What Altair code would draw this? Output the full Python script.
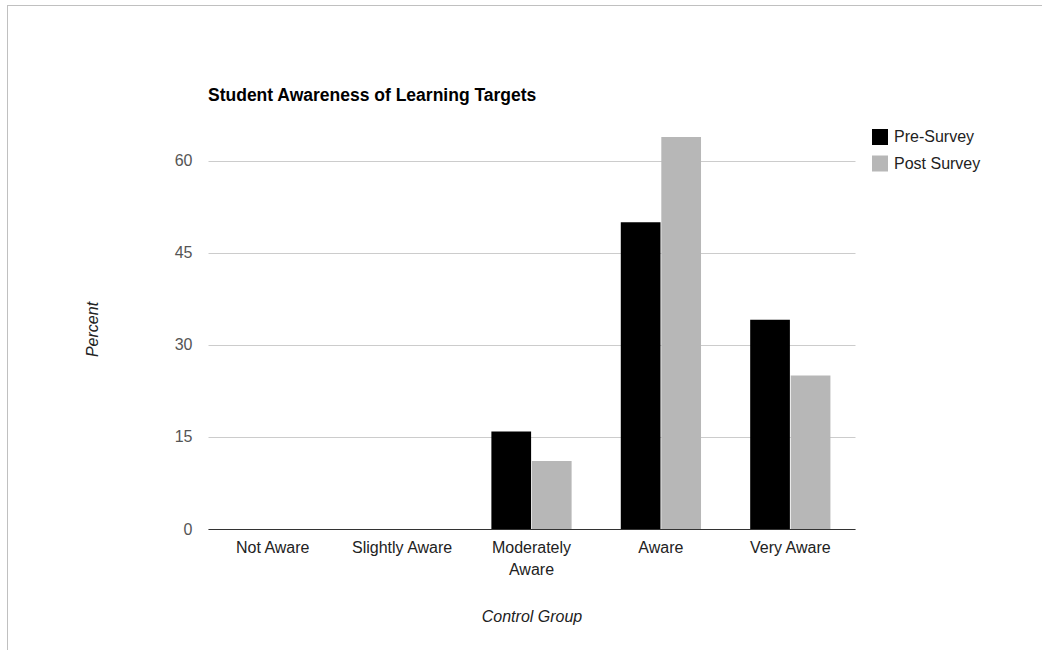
import altair as alt
import pandas as pd

# Awareness levels on the x axis
levels = ["Not Aware", "Slightly Aware", "Moderately Aware", "Aware", "Very Aware"]
# Percent of students at each level
pre_survey = [0, 0, 15.9, 50, 34.1]
post_survey = [0, 0, 11.1, 63.9, 25]
series = ["Pre-Survey", "Post Survey"]
series_colors = ["#000000", "#b7b7b7"]
y_ticks = [0, 15, 30, 45, 60]
chart_title = "Student Awareness of Learning Targets"

rows = []
for lvl, a, b in zip(levels, pre_survey, post_survey):
    rows.append({"level": lvl, "survey": series[0], "percent": a})
    rows.append({"level": lvl, "survey": series[1], "percent": b})
df = pd.DataFrame(rows)

FONT = "Liberation Sans"

bars = alt.Chart(df).mark_bar().encode(
    x=alt.X(
        "level:N",
        sort=levels,
        scale=alt.Scale(paddingInner=0.38, paddingOuter=0.19),
        axis=alt.Axis(
            title="Control Group",
            titleFont=FONT,
            titleFontSize=16,
            titleFontStyle="italic",
            titleFontWeight="normal",
            titleColor="#222222",
            titleBaseline="alphabetic",
            titleY=92,
            labelFont=FONT,
            labelFontSize=16,
            labelColor="#222222",
            labelAngle=0,
            labelPadding=10,
            labelLineHeight=22,
            labelExpr="datum.label == 'Moderately Aware' ? ['Moderately', 'Aware'] : datum.label",
            ticks=False,
            domain=True,
            domainColor="#333333",
            domainWidth=1,
            grid=False,
        ),
    ),
    xOffset=alt.XOffset("survey:N", sort=series, scale=alt.Scale(paddingInner=0.02)),
    y=alt.Y(
        "percent:Q",
        scale=alt.Scale(domain=[0, 66], nice=False),
        axis=alt.Axis(
            title="Percent",
            titleFont=FONT,
            titleFontSize=16,
            titleFontStyle="italic",
            titleFontWeight="normal",
            titleColor="#222222",
            titleAngle=270,
            titleBaseline="middle",
            titleX=-116,
            titleY=205,
            values=y_ticks,
            labelFont=FONT,
            labelFontSize=16,
            labelColor="#555555",
            labelPadding=16,
            ticks=False,
            domain=False,
            grid=True,
            gridColor="#cccccc",
            gridWidth=1,
        ),
    ),
    color=alt.Color(
        "survey:N",
        sort=series,
        scale=alt.Scale(domain=series, range=series_colors),
        legend=alt.Legend(
            title=None,
            orient="none",
            legendX=664,
            legendY=5,
            padding=0,
            symbolType="square",
            symbolSize=256,
            symbolStrokeWidth=0,
            symbolOpacity=1,
            rowPadding=10.5,
            labelOffset=6,
            labelFont=FONT,
            labelFontSize=16,
            labelColor="#222222",
        ),
    ),
)

one_row = pd.DataFrame({"k": [0]})

# Chart heading, left-aligned with the plot area
heading = alt.Chart(one_row).mark_text(
    text=chart_title,
    font=FONT,
    fontSize=17.5,
    fontWeight="bold",
    color="#000000",
    align="left",
    baseline="alphabetic",
    clip=False,
).encode(x=alt.value(0), y=alt.value(-23))

# Light frame along the left and top edges of the page
left_edge = alt.Chart(one_row).mark_rule(color="#c0c0c0", strokeWidth=1, clip=False).encode(
    x=alt.value(-200.5), y=alt.value(-119), y2=alt.value(530)
)
top_edge = alt.Chart(one_row).mark_rule(color="#c0c0c0", strokeWidth=1, clip=False).encode(
    x=alt.value(-201), x2=alt.value(840), y=alt.value(-118.5)
)

chart = alt.layer(bars, heading, left_edge, top_edge).properties(
    width=647,
    height=405,
    autosize=alt.AutoSizeParams(type="none"),
    padding={"left": 208, "top": 124, "right": 187, "bottom": 121},
    background="#ffffff",
).configure_view(stroke=None)

chart.save("out.html", embed_options={"renderer": "svg", "actions": False})
